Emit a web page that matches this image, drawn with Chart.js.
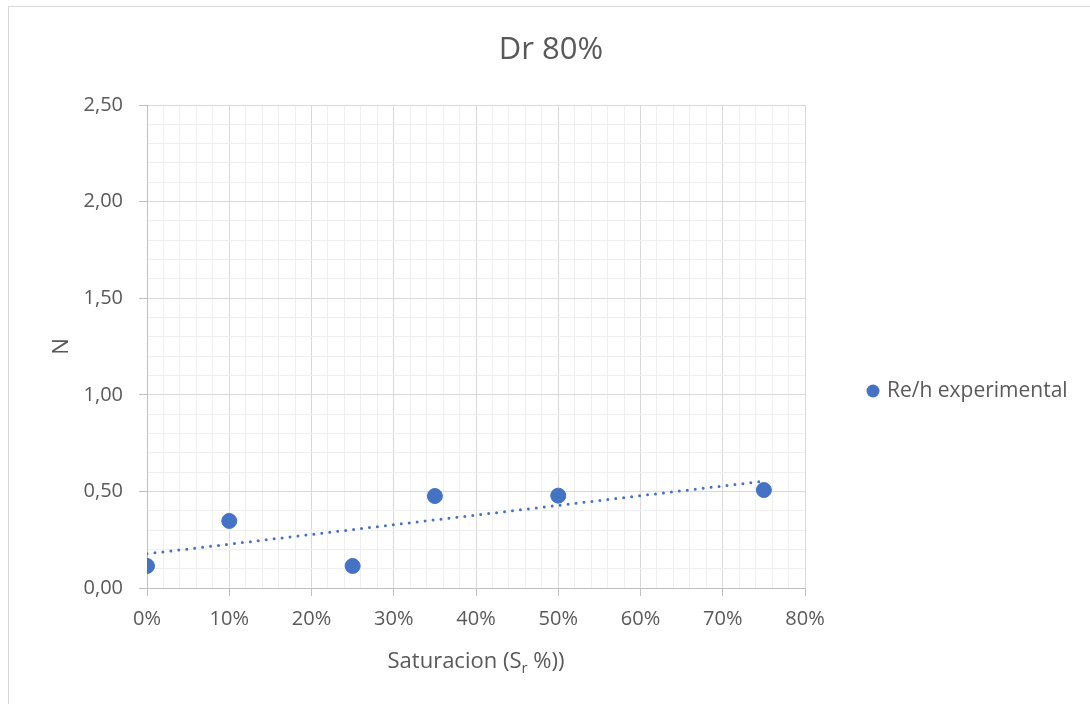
<!DOCTYPE html>
<html>
<head>
<meta charset="utf-8">
<script src="https://cdn.jsdelivr.net/npm/chart.js@4.4.1/dist/chart.umd.min.js"></script>
<style>
  html, body { margin: 0; padding: 0; background: #ffffff; }
  #wrap { width: 1090px; height: 704px; position: relative; }
</style>
</head>
<body>
<div id="wrap"><canvas id="c" width="1090" height="704"></canvas></div>
<script>
// ---- data ----
const chartTitle = 'Dr 80%';
const seriesLabel = 'Re/h experimental';
const saturacion = [0, 10, 25, 35, 50, 75];          // Sr %
const nValues = [0.114, 0.347, 0.114, 0.476, 0.478, 0.507];
const trendX = [0, 75];
const trendN = [0.177, 0.553];
const xTickLabels = ['0%', '10%', '20%', '30%', '40%', '50%', '60%', '70%', '80%'];
const yTickLabels = ['0,00', '0,50', '1,00', '1,50', '2,00', '2,50'];
const yTitle = 'N';
const xTitleParts = ['Saturacion (S', 'r', ' %))'];

const BLUE = '#4472C4';
const TXT = '#595959';
const FONT = "'Open Sans', 'DejaVu Sans', sans-serif";

const isMajorX = v => Math.round(v) % 10 === 0;
const isMajorY = v => Math.round(v * 10) % 5 === 0;

const decorPlugin = {
  id: 'decor',
  beforeDraw(chart) {
    const ctx = chart.ctx;
    ctx.save();
    ctx.fillStyle = '#ffffff';
    ctx.fillRect(0, 0, chart.width, chart.height);
    ctx.strokeStyle = '#d9d9d9';
    ctx.lineWidth = 1;
    ctx.strokeRect(8.5, 6.5, 1300, 1300);
    ctx.restore();
  },
  afterDraw(chart) {
    const ctx = chart.ctx;
    const ca = chart.chartArea;
    ctx.save();
    // title
    ctx.fillStyle = TXT;
    ctx.font = '31px ' + FONT;
    ctx.textAlign = 'center';
    ctx.textBaseline = 'middle';
    ctx.fillText(chartTitle, 551, 50);
    // x axis title with subscript
    const big = '22px ' + FONT, small = '15px ' + FONT;
    ctx.font = big; const w0 = ctx.measureText(xTitleParts[0]).width;
    ctx.font = small; const w1 = ctx.measureText(xTitleParts[1]).width;
    ctx.font = big; const w2 = ctx.measureText(xTitleParts[2]).width;
    const total = w0 + w1 + w2;
    let x = (ca.left + ca.right) / 2 - total / 2;
    const y = 668;
    ctx.textAlign = 'left';
    ctx.textBaseline = 'alphabetic';
    ctx.font = big; ctx.fillText(xTitleParts[0], x, y); x += w0;
    ctx.font = small; ctx.fillText(xTitleParts[1], x, y + 5); x += w1;
    ctx.font = big; ctx.fillText(xTitleParts[2], x, y);
    // legend
    const lx = ca.right + 68, ly = 391;
    ctx.beginPath();
    ctx.arc(lx, ly, 6.5, 0, Math.PI * 2);
    ctx.fillStyle = chart.data.datasets[0].backgroundColor;
    ctx.fill();
    ctx.fillStyle = TXT;
    ctx.font = '21px ' + FONT;
    ctx.textBaseline = 'middle';
    ctx.fillText(chart.data.datasets[0].label, lx + 14, ly);
    ctx.restore();
  }
};

new Chart(document.getElementById('c'), {
  type: 'scatter',
  data: {
    datasets: [
      {
        label: seriesLabel,
        data: saturacion.map((s, i) => ({ x: s, y: nValues[i] })),
        backgroundColor: BLUE,
        borderColor: BLUE,
        pointRadius: 7.5,
        pointHoverRadius: 7.5,
        order: 1
      },
      {
        label: 'trend',
        type: 'line',
        data: trendX.map((s, i) => ({ x: s, y: trendN[i] })),
        borderColor: BLUE,
        borderWidth: 3,
        borderDash: [0, 8],
        borderCapStyle: 'round',
        pointRadius: 0,
        fill: false,
        order: 2
      }
    ]
  },
  options: {
    responsive: false,
    animation: false,
    devicePixelRatio: 1,
    layout: { padding: { top: 105, right: 285, bottom: 0, left: 0 } },
    plugins: {
      legend: { display: false },
      title: { display: false },
      tooltip: { enabled: false }
    },
    scales: {
      x: {
        type: 'linear',
        min: 0, max: 80,
        afterFit(scale) { scale.height = 116; },
        ticks: {
          stepSize: 2,
          autoSkip: false,
          maxRotation: 0,
          padding: 11,
          color: TXT,
          font: { family: FONT, size: 20 },
          callback: v => isMajorX(v) ? xTickLabels[Math.round(v / 10)] : ''
        },
        grid: {
          color: c => isMajorX(c.tick.value) ? '#d9d9d9' : '#efefef',
          tickColor: c => isMajorX(c.tick.value) ? '#bfbfbf' : 'rgba(0,0,0,0)',
          tickLength: 8,
          lineWidth: 1
        },
        border: { color: '#bfbfbf', width: 1 }
      },
      y: {
        type: 'linear',
        min: 0, max: 2.5,
        afterFit(scale) { scale.width = 147; },
        ticks: {
          stepSize: 0.1,
          autoSkip: false,
          padding: 16,
          color: TXT,
          font: { family: FONT, size: 20 },
          callback: v => isMajorY(v) ? yTickLabels[Math.round(v * 2)] : ''
        },
        grid: {
          color: c => isMajorY(c.tick.value) ? '#d9d9d9' : '#efefef',
          tickColor: c => isMajorY(c.tick.value) ? '#bfbfbf' : 'rgba(0,0,0,0)',
          tickLength: 8,
          lineWidth: 1
        },
        border: { color: '#bfbfbf', width: 1 },
        title: {
          display: true,
          text: yTitle,
          color: TXT,
          font: { family: FONT, size: 22 },
          padding: { top: 49, bottom: 0 }
        }
      }
    }
  },
  plugins: [decorPlugin]
});
</script>
</body>
</html>
